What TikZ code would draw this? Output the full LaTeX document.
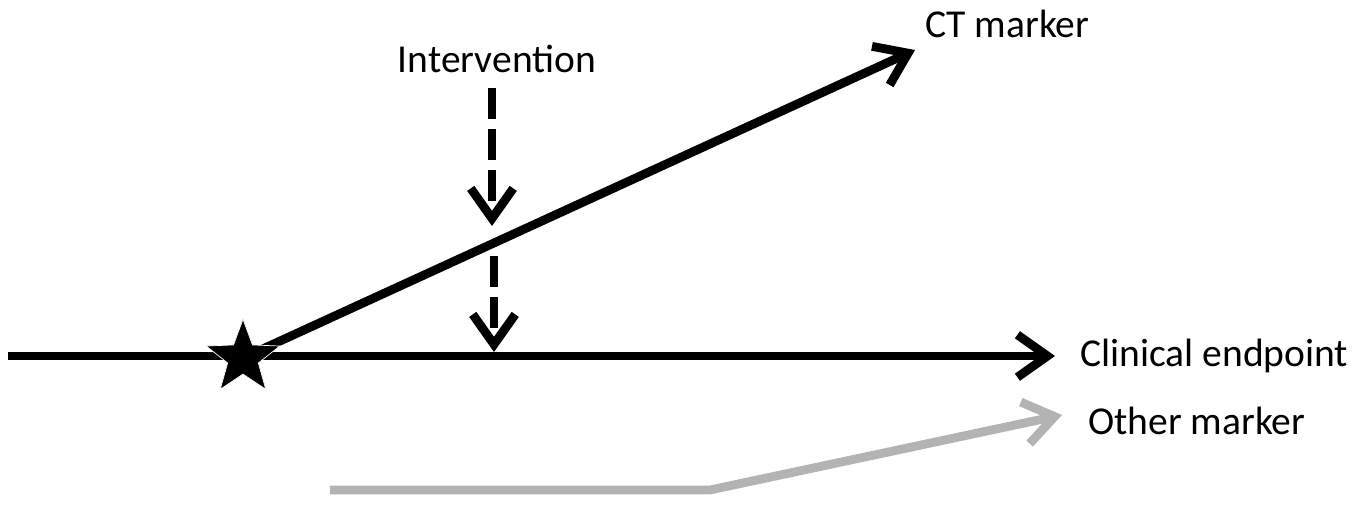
\documentclass[tikz,border=0pt]{standalone}
\usepackage{fontspec}
\setmainfont{Carlito}
\usepackage{xcolor}
\usetikzlibrary{positioning, arrows.meta, shapes.geometric}
\definecolor{ctblack}{RGB}{0, 0, 0}
\definecolor{ctgray}{RGB}{179, 179, 179}
\tikzset{
    thickline/.style={line width=5pt, draw=ctblack},
    barbtip/.style={-{Straight Barb[length=6mm, width=8.5mm, line width=5pt]}},
    grayline/.style={thickline, draw=ctgray, line join=miter},
    dashline/.style={thickline, dash pattern=on 0.62cm off 0.2cm},
    label/.style={font=\fontsize{22.5}{26}\selectfont, inner sep=0pt},
    eventstar/.style={star, star points=5, star point ratio=2.4, fill=ctblack, draw=white, line width=0.4pt, minimum size=1.55cm, inner sep=0pt}
}

\begin{document}
\begin{tikzpicture}[x=0.02cm, y=-0.02cm]
    \useasboundingbox (0,0) rectangle (1367,531);
    % axis and event
    \coordinate (start) at (8,356);
    \coordinate (clinend) at (1055,356);
    \node[eventstar] (event) at (243,358) {};
    \draw[thickline, barbtip] (start) -- (clinend);
    % surrogate paths
    \coordinate (ctend) at (915,50);
    \draw[thickline, barbtip] (event.center) -- (ctend);
    \coordinate (graystart) at (330,490);
    \coordinate (graybend) at (710,490);
    \coordinate (grayend) at (1062,415);
    \draw[grayline, barbtip] (graystart) -- (graybend) -- (grayend);
    \node[eventstar] at (event) {};
    % intervention
    \node[label] (interv) at (497,59) {Intervention};
    \coordinate (hitct) at (492,88);
    \coordinate (ctpoint) at (492,226);
    \coordinate (below) at (494,256);
    \coordinate (hitend) at (494,352);
    \draw[dashline, barbtip] (hitct) -- (ctpoint);
    \draw[dashline, barbtip] (below) -- (hitend);
    % labels
    \node[label, anchor=west] (ctlabel) at (925,24) {CT marker};
    \node[label, anchor=west] (clinlabel) at (1080,356) {Clinical endpoint};
    \node[label, anchor=west] (otherlabel) at (1088,421) {Other marker};
\end{tikzpicture}
\end{document}
